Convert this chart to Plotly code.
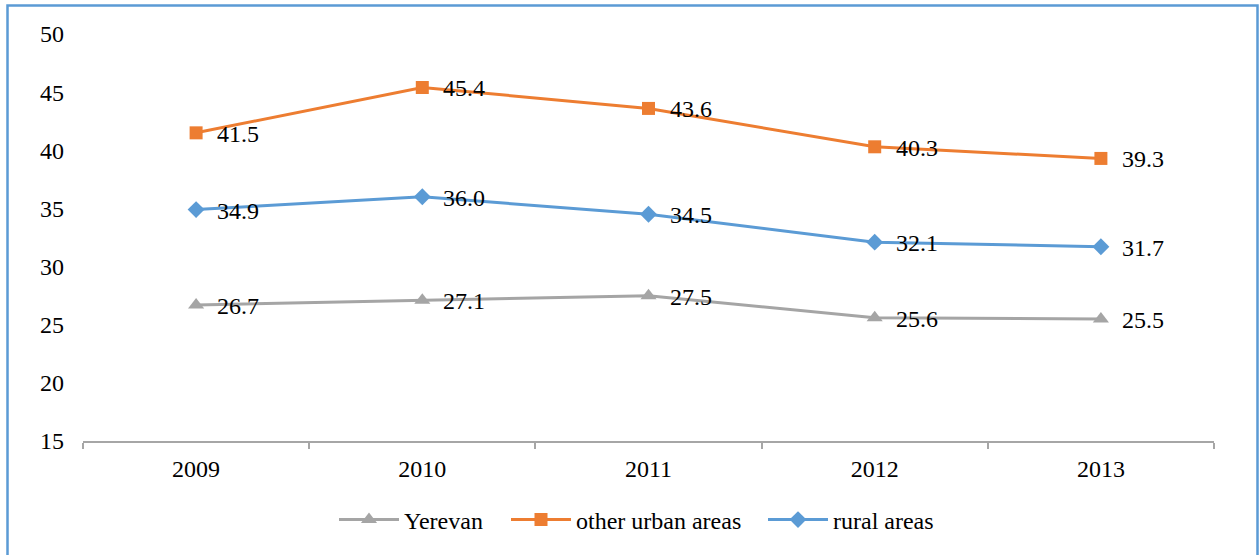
import plotly.graph_objects as go

years = ["2009", "2010", "2011", "2012", "2013"]
yerevan = [26.7, 27.1, 27.5, 25.6, 25.5]
other_urban = [41.5, 45.4, 43.6, 40.3, 39.3]
rural = [34.9, 36.0, 34.5, 32.1, 31.7]
y_ticks = [15, 20, 25, 30, 35, 40, 45, 50]

FONT = "Liberation Serif"
FS = 24
W, H = 1259, 555
L, R, T, B = 83, 45, 34, 114
pw = W - L - R
ph = H - T - B

# (name, values, colour, marker, marker size, legend id, legend left edge in px)
series = [
    ("Yerevan", yerevan, "#A5A5A5", "triangle-up", 14, "legend", 334),
    ("other urban areas", other_urban, "#ED7D31", "square", 13, "legend2", 506),
    ("rural areas", rural, "#5B9BD5", "diamond", 13, "legend3", 763),
]

fig = go.Figure()
legends = {}
for name, vals, color, sym, ms, lg, lx in series:
    fig.add_trace(go.Scatter(
        x=years, y=vals, name=name, mode="lines+markers",
        line=dict(color=color, width=3),
        marker=dict(symbol=sym, size=ms, color=color),
        cliponaxis=False, legend=lg,
    ))
    for i, v in enumerate(vals):
        fig.add_annotation(x=i, y=v, xref="x", yref="y", text=f"{v:.1f}",
                           showarrow=False, xanchor="left", yanchor="middle",
                           xshift=19, yshift=-1,
                           font=dict(family=FONT, size=FS, color="#000000"))
    legends[lg] = dict(orientation="h", x=(lx - L) / pw, xanchor="left",
                       y=(H - B - 520) / ph, yanchor="middle",
                       font=dict(family=FONT, size=FS, color="#000000"),
                       itemwidth=60, bgcolor="rgba(0,0,0,0)")

fig.add_shape(type="rect", xref="paper", yref="paper",
              x0=(7.5 - L) / pw, x1=(W - 1.5 - L) / pw,
              y0=(H - B - 570) / ph, y1=(H - B - 5.5) / ph,
              line=dict(color="#5B9BD5", width=2.5), layer="below")

fig.update_layout(
    width=W, height=H,
    margin=dict(l=L, r=R, t=T, b=B),
    paper_bgcolor="white", plot_bgcolor="white",
    font=dict(family=FONT, size=FS, color="#000000"),
    showlegend=True,
    xaxis=dict(type="category", range=[-0.5, 4.5],
               showline=True, linecolor="#A6A6A6", linewidth=1.5,
               ticks="outside", tickson="boundaries", ticklen=6,
               tickcolor="#A6A6A6", tickwidth=1.5,
               showgrid=False, zeroline=False,
               tickfont=dict(family=FONT, size=FS), ticklabelstandoff=5),
    yaxis=dict(range=[15, 50], tickvals=y_ticks, showgrid=False,
               showline=False, zeroline=False, ticks="",
               tickfont=dict(family=FONT, size=FS), ticklabelstandoff=18),
    **legends,
)

post = (
    "document.body.style.margin='0';"
    "var s=document.createElement('style');"
    "s.textContent='.modebar-container{display:none !important;}';"
    "document.head.appendChild(s);"
)
fig.write_html("out.html", post_script=post)
